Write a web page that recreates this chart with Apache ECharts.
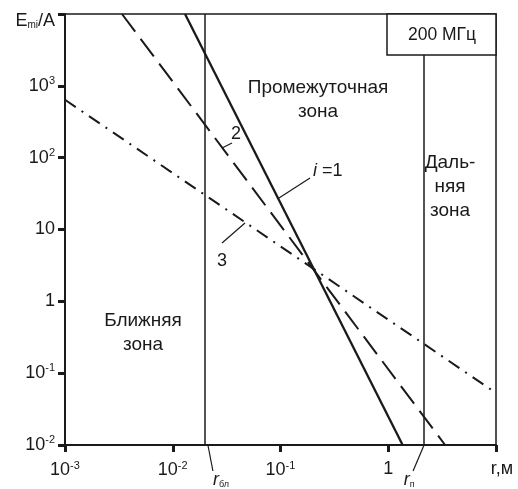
<!DOCTYPE html>
<html><head><meta charset="utf-8">
<script src="https://cdn.jsdelivr.net/npm/echarts@6/dist/echarts.min.js"></script>
<style>html,body{margin:0;padding:0;background:#fff}#c{width:518px;height:489px}</style>
</head><body><div id="c"></div>
<script>
// ---- data ----
const xTicks = [0.001, 0.01, 0.1, 1, 10];
const xTickLabels = ['10^-3', '10^-2', '10^-1', '1', 'r,м'];
const yTicks = [0.01, 0.1, 1, 10, 100, 1000, 10000];
const yTickLabels = ['10^-2', '10^-1', '1', '10', '10^2', '10^3', 'E_mi/A'];
const curve1 = [[0.0130, 10000], [1.36, 0.01]];     // i = 1 (solid)
const curve2 = [[0.00338, 10000], [3.37, 0.01]];    // 2 (dashed)
const curve3 = [[0.001, 640], [10, 0.053]];         // 3 (dash-dot)
const zoneBounds = [0.0212, 2.15];                  // r_бл, r_п
const zoneBoundSubs = ['бл', 'п'];
const freqLabel = '200 МГц';
const zoneNames = ['Ближняя\nзона', 'Промежуточная\nзона', 'Даль-\nняя\nзона'];
const curveLabels = ['i =1', '2', '3'];

const INK = '#1a1a1a';
const FONT = '"Liberation Sans", Arial, sans-serif';

function richLabel(s) {
  if (s.indexOf('^') >= 0) { const p = s.split('^'); return '{b|' + p[0] + '}{sup|' + p[1] + '}'; }
  if (s.indexOf('_') >= 0) {
    const m = s.match(/^(.*)_([a-z]+)(.*)$/);
    return '{bt|' + m[1] + '}{subt|' + m[2] + '}{bt|' + m[3] + '}';
  }
  if (s === 'r,м') return '{rl|' + s + '}';
  return '{b|' + s + '}';
}
function lookup(ticks, labels, v) {
  const lv = Math.log10(v);
  for (let i = 0; i < ticks.length; i++) if (Math.abs(Math.log10(ticks[i]) - lv) < 1e-6) return richLabel(labels[i]);
  return '';
}
const rich = {
  b: { fontSize: 18, fontFamily: FONT, color: INK },
  sup: { fontSize: 11, fontFamily: FONT, color: INK, padding: [0, 0, 10, 0] },
  bt: { fontSize: 18, fontFamily: FONT, color: INK, padding: [14, 0, 0, 0] },
  subt: { fontSize: 10, fontFamily: FONT, color: INK, padding: [22, 0, 0, 0] },
  rl: { fontSize: 18, fontFamily: FONT, color: INK, padding: [0, 0, 0, 12] }
};

const chart = echarts.init(document.getElementById('c'), null, { renderer: 'canvas' });
const dashLine = (data, type, w) => ({
  type: 'line', data: data, symbol: 'none', silent: true, clip: true,
  lineStyle: { color: INK, width: w || 2, type: type }
});
chart.setOption({
  animation: false,
  backgroundColor: '#fff',
  grid: { left: 65, right: 22, top: 14, bottom: 44, show: true, borderColor: INK, borderWidth: 1.5, backgroundColor: 'transparent' },
  xAxis: {
    type: 'log', logBase: 10, min: xTicks[0], max: xTicks[xTicks.length - 1],
    axisLine: { lineStyle: { color: INK, width: 2 } },
    axisTick: { show: true, inside: false, length: 7, lineStyle: { color: INK, width: 3 } },
    minorTick: { show: false }, splitLine: { show: false },
    axisLabel: { margin: 15, formatter: v => lookup(xTicks, xTickLabels, v), rich: rich }
  },
  yAxis: {
    type: 'log', logBase: 10, min: yTicks[0], max: yTicks[yTicks.length - 1],
    axisLine: { lineStyle: { color: INK, width: 2 } },
    axisTick: { show: true, inside: false, length: 7, lineStyle: { color: INK, width: 3 } },
    minorTick: { show: false }, splitLine: { show: false },
    axisLabel: { margin: 10, formatter: v => lookup(yTicks, yTickLabels, v), rich: rich }
  },
  series: [
    dashLine(curve1, 'solid', 2.3),
    dashLine(curve2, [22, 9]),
    dashLine(curve3, [13, 7, 2, 7]),
    {
      type: 'line', data: [], silent: true,
      markLine: {
        silent: true, symbol: ['none', 'none'], label: { show: false },
        lineStyle: { color: INK, width: 1.5, type: 'solid' },
        data: zoneBounds.map(v => ({ xAxis: v }))
      }
    }
  ]
});

// annotations
const T = (x, y, text, opts) => ({
  type: 'text', x: x, y: y, z: 100,
  style: Object.assign({ text: text, fill: INK, font: '19px ' + FONT, align: 'center', verticalAlign: 'middle', lineHeight: 24 }, (opts || {}))
});
const L = (x1, y1, x2, y2) => ({ type: 'line', z: 100, shape: { x1: x1, y1: y1, x2: x2, y2: y2 }, style: { stroke: INK, lineWidth: 1.2 } });
const px = v => chart.convertToPixel({ gridIndex: 0 }, [v, 1])[0];
const bx0 = px(zoneBounds[0]), bx1 = px(zoneBounds[1]);
const rLabel = (x, sub) => ({
  type: 'text', x: x, y: 480, z: 100,
  style: { text: '{it|r}{s|' + sub + '}', rich: { it: { font: 'italic 18px ' + FONT, fill: INK }, s: { font: '9px ' + FONT, fill: INK, padding: [9, 0, 0, 0] } }, align: 'center', verticalAlign: 'middle' }
});
const g = [
  { type: 'rect', z: 90, shape: { x: 387, y: 14, width: 109, height: 41 }, style: { fill: '#fff', stroke: INK, lineWidth: 1.5 } },
  T(442, 35, freqLabel, { font: '17.5px ' + FONT }),
  T(143, 333, zoneNames[0]),
  T(318, 100, zoneNames[1]),
  T(450, 187, zoneNames[2]),
  // curve labels
  { type: 'text', x: 313, y: 171, z: 100, style: { text: '{it|i} =1', rich: { it: { font: 'italic 18px ' + FONT, fill: INK } }, font: '18px ' + FONT, fill: INK, verticalAlign: 'middle' } },
  L(279, 198, 310, 178),
  T(236, 134, curveLabels[1], { font: '18px ' + FONT }),
  L(222, 148, 232, 143),
  T(222, 261, curveLabels[2], { font: '18px ' + FONT }),
  L(222, 243, 245, 223),
  // zone boundary leaders
  L(bx0, 445, bx0 + 5, 471),
  L(bx1, 445, bx1 - 11, 471),
  rLabel(bx0 + 13, zoneBoundSubs[0]),
  rLabel(bx1 - 15, zoneBoundSubs[1])
];
chart.setOption({ graphic: g });
</script>
</body></html>
